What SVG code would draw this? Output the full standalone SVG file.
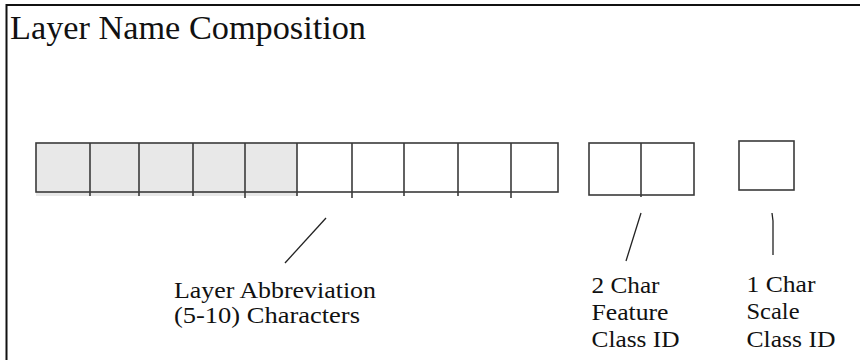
<svg xmlns="http://www.w3.org/2000/svg" width="860" height="360" viewBox="0 0 860 360">
  <style>
    .frame { fill: none; stroke: #111; stroke-width: 2; }
    .cell { fill: none; stroke: #3a3a3a; stroke-width: 1.6; }
    .div { stroke: #3a3a3a; stroke-width: 1.6; }
    .lead { stroke: #222; stroke-width: 1.3; fill: none; }
    .title { font-size: 34px; }
    .label { font-size: 24px; }
  </style>
  <rect width="860" height="360" fill="#fff"/>
  <polyline class="frame" points="6.5,360 6.5,5 860,5"/>

  <g font-family="Liberation Serif, Times New Roman, DejaVu Serif, serif" fill="#111">
    <text class="title" x="10" y="39" textLength="356" lengthAdjust="spacingAndGlyphs">Layer Name Composition</text>

    <!-- layer abbreviation: 10 cells, first 5 shaded -->
    <g id="abbreviation">
      <rect x="36" y="143" width="261" height="53" fill="#e8e8e8"/>
      <rect class="cell" x="36" y="143" width="522" height="49"/>
      <line class="div" x1="90" y1="143" x2="90" y2="196"/>
      <line class="div" x1="139" y1="143" x2="139" y2="196"/>
      <line class="div" x1="193" y1="143" x2="193" y2="196"/>
      <line class="div" x1="245" y1="143" x2="245" y2="198"/>
      <line class="div" x1="297" y1="143" x2="297" y2="196"/>
      <line class="div" x1="352" y1="143" x2="352" y2="198"/>
      <line class="div" x1="404" y1="143" x2="404" y2="196"/>
      <line class="div" x1="458" y1="143" x2="458" y2="196"/>
      <line class="div" x1="511" y1="143" x2="511" y2="198"/>
      <text class="label" x="174" y="298" textLength="202" lengthAdjust="spacingAndGlyphs">Layer Abbreviation</text>
      <text class="label" x="174" y="323" textLength="186" lengthAdjust="spacingAndGlyphs">(5-10) Characters</text>
    </g>

    <!-- feature class id: 2 cells -->
    <g id="feature-class">
      <rect class="cell" x="589" y="143" width="105" height="52"/>
      <line class="div" x1="641" y1="143" x2="641" y2="197"/>
      <text class="label" x="591.5" y="293" textLength="68" lengthAdjust="spacingAndGlyphs">2 Char</text>
      <text class="label" x="591.5" y="320" textLength="77" lengthAdjust="spacingAndGlyphs">Feature</text>
      <text class="label" x="591.5" y="346.5" textLength="88" lengthAdjust="spacingAndGlyphs">Class ID</text>
    </g>

    <!-- scale class id: 1 cell -->
    <g id="scale-class">
      <rect class="cell" x="739" y="141" width="55" height="49"/>
      <text class="label" x="746.5" y="292" textLength="69" lengthAdjust="spacingAndGlyphs">1 Char</text>
      <text class="label" x="746.5" y="319" textLength="53" lengthAdjust="spacingAndGlyphs">Scale</text>
      <text class="label" x="746.5" y="346.5" textLength="89" lengthAdjust="spacingAndGlyphs">Class ID</text>
    </g>
  </g>

  <g id="connectors">
    <line class="lead" x1="326" y1="218" x2="285" y2="263"/>
    <line class="lead" x1="641" y1="213" x2="626" y2="261"/>
    <polyline class="lead" points="772,213 773,221 773,255"/>
  </g>
</svg>
